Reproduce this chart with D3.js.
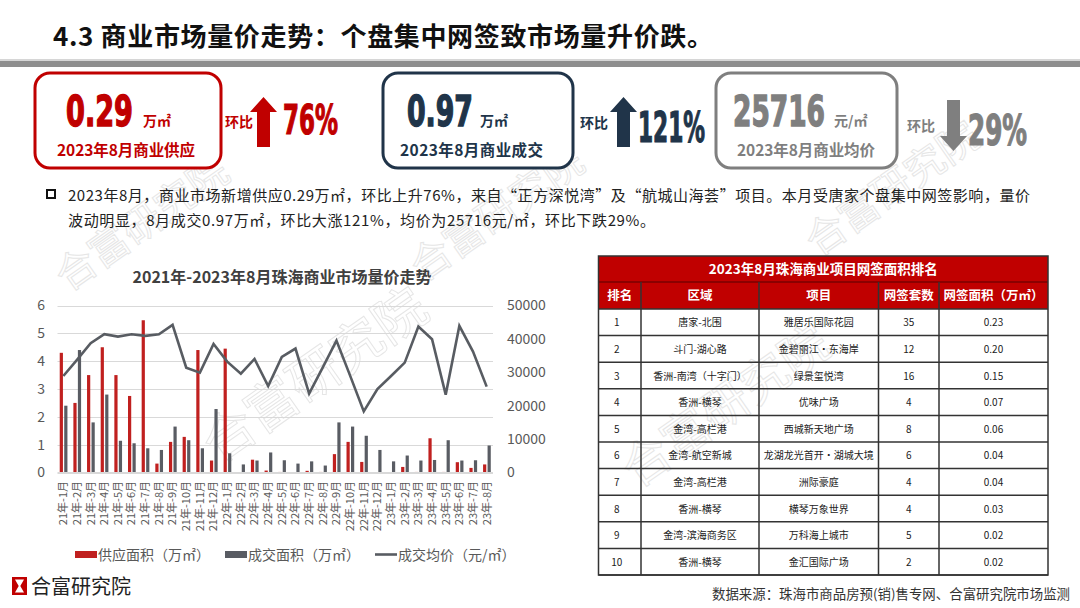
<!DOCTYPE html>
<html><head><meta charset="utf-8">
<script src="https://cdn.jsdelivr.net/npm/d3@7/dist/d3.min.js"></script>
<style>body{margin:0;background:#fff}svg{display:block}</style>
</head><body><svg id="c" width="1080" height="608"></svg>
<script>
// ---------- data ----------
const months = [
 "21年-1月","21年-2月","21年-3月","21年-4月","21年-5月","21年-6月","21年-7月","21年-8月","21年-9月","21年-10月","21年-11月","21年-12月",
 "22年-1月","22年-2月","22年-3月","22年-4月","22年-5月","22年-6月","22年-7月","22年-8月","22年-9月","22年-10月","22年-11月","22年-12月",
 "23年-1月","23年-2月","23年-3月","23年-4月","23年-5月","23年-6月","23年-7月","23年-8月"];
const supply = [4.3,2.5,3.5,4.5,3.5,2.75,5.47,0.32,1.1,1.28,4.4,0.43,
                4.45,0,0.46,0.07,0.02,0,0.06,0.02,0.66,1.1,0.38,0,
                0,0.2,0.02,1.23,0.02,0.37,0.165,0.29];
const deal = [2.4,4.4,1.8,2.8,1.14,1.05,0.87,0.81,1.65,1.16,0.87,2.28,
              0.69,0.29,0.43,0.72,0.44,0.32,0.40,0.25,1.8,1.65,1.32,0.81,
              0.40,0.61,0.43,0.45,1.16,0.43,0.44,0.97];
const price = [28900,33700,38700,41400,40700,41400,40900,41400,44200,31400,29900,38500,
               33200,29600,34000,25900,34600,37100,23600,31500,39500,29000,18300,25000,
               28900,32900,43700,39900,23300,43900,36200,25716];
const leftTicks = [0,1,2,3,4,5,6];
const rightTicks = [0,10000,20000,30000,40000,50000];
const seriesNames = ["供应面积（万㎡）","成交面积（万㎡）","成交均价（元/㎡）"];

const tableTitle = "2023年8月珠海商业项目网签面积排名";
const tableHeaders = ["排名","区域","项目","网签套数","网签面积（万㎡）"];
const ranks = [1,2,3,4,5,6,7,8,9,10];
const areas = ["唐家-北围","斗门-湖心路","香洲-南湾（十字门）","香洲-横琴","金湾-高栏港","金湾-航空新城","金湾-高栏港","香洲-横琴","金湾-滨海商务区","香洲-横琴"];
const projects = ["雅居乐国际花园","金碧丽江·东海岸","绿景玺悦湾","优味广场","西城新天地广场","龙湖龙光首开·湖城大境","洲际豪庭","横琴万象世界","万科海上城市","金汇国际广场"];
const units = [35,12,16,4,8,6,4,4,5,2];
const netArea = ["0.23","0.20","0.15","0.07","0.06","0.04","0.04","0.03","0.02","0.02"];

const kpiValues = ["0.29","0.97","25716"];
const kpiUnits = ["万㎡","万㎡","元/㎡"];
const kpiLabels = ["2023年8月商业供应","2023年8月商业成交","2023年8月商业均价"];
const kpiChanges = ["76%","121%","29%"];
const kpiDirs = ["up","up","down"];

const titleText = "4.3 商业市场量价走势：个盘集中网签致市场量升价跌。";
const bullet1 = "2023年8月，商业市场新增供应0.29万㎡，环比上升76%，来自“正方深悦湾”及“航城山海荟”项目。本月受唐家个盘集中网签影响，量价";
const bullet2 = "波动明显，8月成交0.97万㎡，环比大涨121%，均价为25716元/㎡，环比下跌29%。";
const chartTitle = "2021年-2023年8月珠海商业市场量价走势";
const sourceText = "数据来源：珠海市商品房预(销)售专网、合富研究院市场监测";

// ---------- drawing ----------
const svg = d3.select("#c");
const CJK = "'Noto Sans CJK SC','Noto Sans',sans-serif";
const NARROW = "'Liberation Sans Narrow','DejaVu Sans Condensed','Liberation Sans',sans-serif";
svg.append("rect").attr("width",1080).attr("height",608).attr("fill","#fff");

// watermarks
const wm = [[150,235,40],[505,225,40],[900,200,40],[325,390,52],[735,420,48]];
wm.forEach(([x,y,s])=>{
  svg.append("text").attr("transform",`translate(${x},${y}) rotate(-35)`)
    .attr("text-anchor","middle").attr("font-family",CJK).attr("font-size",s)
    .attr("fill","none").attr("stroke","#e6e6e6").attr("stroke-width",1)
    .text("合富研究院");
});

// title
svg.append("text").attr("x",53).attr("y",46).attr("font-family",CJK).attr("font-weight","bold")
  .attr("font-size",26).attr("fill","#111").attr("textLength",660).attr("lengthAdjust","spacing").text(titleText);
svg.append("rect").attr("x",0).attr("y",59).attr("width",1080).attr("height",2).attr("fill","#d6d6d6");
svg.append("rect").attr("x",0).attr("y",61).attr("width",1080).attr("height",6).attr("fill","#8e8e8e");

// fits a text horizontally to a target width by scaling (keeps bbox honest)
function fitText(sel, x, y, targetW){
  const w = sel.node().getComputedTextLength();
  const sx = targetW / w;
  sel.attr("x",0).attr("y",0).attr("transform",`translate(${x},${y}) scale(${sx},1)`);
}

// KPI boxes
const kpiColors = ["#c00000","#203449","#7f7f7f"];
const boxes = [
  {x:35,w:186,numX:66,numW:67,unitX:143,lblX:57,lblW:138,hbX:225,arX:250,chX:283,chW:55,chTop:104,chBase:134},
  {x:383,w:190,numX:407,numW:66,unitX:480,lblX:400,lblW:143,hbX:580,arX:610,chX:638,chW:67,chTop:111,chBase:142},
  {x:716,w:181,numX:733,numW:92,unitX:834,lblX:737,lblW:138,hbX:907,arX:940,chX:968,chW:59,chTop:114,chBase:145}
];
boxes.forEach((b,i)=>{
  const col = kpiColors[i];
  svg.append("rect").attr("x",b.x).attr("y",73).attr("width",b.w).attr("height",95)
    .attr("rx",15).attr("fill","#fff").attr("stroke",col).attr("stroke-width",3);
  const num = svg.append("text").attr("font-family",NARROW).attr("font-weight","bold")
    .attr("font-size",43).attr("fill",col).attr("stroke",col).attr("stroke-width",1.4).text(kpiValues[i]);
  fitText(num, b.numX, 126, b.numW);
  svg.append("text").attr("x",b.unitX).attr("y",126).attr("font-family",CJK).attr("font-weight","bold")
    .attr("font-size",14).attr("fill",col).text(kpiUnits[i]);
  svg.append("text").attr("x",b.lblX).attr("y",156).attr("font-family",CJK).attr("font-weight","bold")
    .attr("font-size",15.5).attr("fill",col).attr("textLength",b.lblW).attr("lengthAdjust","spacing").text(kpiLabels[i]);
  svg.append("text").attr("x",b.hbX).attr("y",i===0?127:(i===1?128:131)).attr("font-family",CJK).attr("font-weight","bold")
    .attr("font-size",14).attr("fill",col).text("环比");
  // arrow
  const ax=b.arX, top=97, bot=147, w=27, hh=15, sw=13;
  let p;
  if(kpiDirs[i]==="up"){
    p=`M${ax+w/2},${top} L${ax+w},${top+hh} L${ax+w/2+sw/2},${top+hh} L${ax+w/2+sw/2},${bot} L${ax+w/2-sw/2},${bot} L${ax+w/2-sw/2},${top+hh} L${ax},${top+hh} Z`;
  } else {
    const t2=100,b2=151;
    p=`M${ax+w/2},${b2} L${ax+w},${b2-hh} L${ax+w/2+sw/2},${b2-hh} L${ax+w/2+sw/2},${t2} L${ax+w/2-sw/2},${t2} L${ax+w/2-sw/2},${b2-hh} L${ax},${b2-hh} Z`;
  }
  svg.append("path").attr("d",p).attr("fill",col);
  const chSize = (b.chBase-b.chTop)/0.72;
  const ch = svg.append("text").attr("font-family",NARROW).attr("font-weight","bold")
    .attr("font-size",chSize).attr("fill",col).attr("stroke",col).attr("stroke-width",1.2).text(kpiChanges[i]);
  fitText(ch, b.chX, b.chBase, b.chW);
});

// bullet paragraph
svg.append("rect").attr("x",47).attr("y",190).attr("width",8).attr("height",8).attr("fill","#fff").attr("stroke","#111").attr("stroke-width",2);
svg.append("text").attr("x",68).attr("y",201).attr("font-family",CJK).attr("font-size",15).attr("fill","#222")
  .attr("textLength",962).attr("lengthAdjust","spacing").text(bullet1);
svg.append("text").attr("x",68).attr("y",226).attr("font-family",CJK).attr("font-size",15).attr("fill","#222")
  .attr("textLength",587).attr("lengthAdjust","spacing").text(bullet2);

// ---------- chart ----------
const x = d3.scaleBand().domain(months).range([56.5,493.5]).padding(0);
const yL = d3.scaleLinear().domain([0,6]).range([472.5,305.5]);
const yR = d3.scaleLinear().domain([0,50000]).range([472.5,305.5]);
const cx = m => x(m)+x.bandwidth()/2;

svg.append("text").attr("x",282).attr("y",283).attr("text-anchor","middle").attr("font-family",CJK)
  .attr("font-weight","bold").attr("font-size",16).attr("fill","#404040").text(chartTitle);

const g = svg.append("g");
g.selectAll(".grid").data(leftTicks).join("line")
  .attr("x1",57.5).attr("x2",493).attr("y1",d=>Math.round(yL(d))+0.5).attr("y2",d=>Math.round(yL(d))+0.5)
  .attr("stroke","#d9d9d9").attr("stroke-width",1);

const axL = d3.axisLeft(yL).tickValues(leftTicks).tickSize(0).tickPadding(0).tickFormat(d3.format("d"));
const gL = svg.append("g").attr("transform","translate(45,0)").call(axL);
gL.select(".domain").remove();
gL.selectAll("text").attr("font-family",CJK).attr("font-size",14).attr("fill","#595959");

const axR = d3.axisRight(yR).tickValues(rightTicks).tickSize(0).tickPadding(0).tickFormat(d3.format("d"));
const gR = svg.append("g").attr("transform","translate(507,0)").call(axR);
gR.select(".domain").remove();
gR.selectAll("text").attr("font-family",CJK).attr("font-size",14).attr("fill","#595959");

const axB = d3.axisBottom(x).tickSize(0).tickPadding(0);
const gB = svg.append("g").attr("transform","translate(0,481)").call(axB);
gB.select(".domain").remove();
gB.selectAll("text").attr("font-family",CJK).attr("font-size",11).attr("fill","#595959")
  .attr("text-anchor","end").attr("dy","0.35em").attr("transform","rotate(-90)").attr("x",0).attr("y",0);

g.selectAll(".sup").data(months).join("rect")
  .attr("x",(m)=>cx(m)-3.6).attr("width",3.2)
  .attr("y",(m,i)=>yL(supply[i])).attr("height",(m,i)=>yL(0)-yL(supply[i]))
  .attr("fill","#c0201f");
g.selectAll(".deal").data(months).join("rect")
  .attr("x",(m)=>cx(m)+0.9).attr("width",3.2)
  .attr("y",(m,i)=>yL(deal[i])).attr("height",(m,i)=>yL(0)-yL(deal[i]))
  .attr("fill","#595c63");
g.append("line").attr("x1",57.5).attr("x2",493).attr("y1",472.5).attr("y2",472.5).attr("stroke","#d9d9d9");

const line = d3.line().x((d,i)=>cx(months[i])).y(d=>yR(d));
g.append("path").datum(price).attr("d",line).attr("fill","none")
  .attr("stroke","#585c62").attr("stroke-width",2.6).attr("stroke-linejoin","miter");

// legend
const lg = svg.append("g").attr("font-family",CJK).attr("font-size",14).attr("fill","#595959");
lg.append("rect").attr("x",75).attr("y",551).attr("width",22).attr("height",7).attr("fill","#c0201f");
lg.append("text").attr("x",98).attr("y",560).text(seriesNames[0]);
lg.append("rect").attr("x",225).attr("y",551).attr("width",22).attr("height",7).attr("fill","#595c63");
lg.append("text").attr("x",248).attr("y",560).text(seriesNames[1]);
lg.append("line").attr("x1",375).attr("x2",397).attr("y1",554.5).attr("y2",554.5).attr("stroke","#585c62").attr("stroke-width",2.6);
lg.append("text").attr("x",398).attr("y",560).text(seriesNames[2]);

// ---------- table ----------
const colEdges = [598.5,641,759,878.5,939,1048];
const tY0 = 256, tY1 = 282, tY2 = 309, tY3 = 575;
const rowY = d3.scaleBand().domain(ranks).range([tY2,tY3]);
const tg = svg.append("g");
tg.append("rect").attr("x",colEdges[0]).attr("y",tY0).attr("width",colEdges[5]-colEdges[0]).attr("height",tY2-tY0).attr("fill","#c00000");
tg.append("text").attr("x",(colEdges[0]+colEdges[5])/2).attr("y",274).attr("text-anchor","middle")
  .attr("font-family",CJK).attr("font-weight","bold").attr("font-size",13.5).attr("fill","#fff").text(tableTitle);
tableHeaders.forEach((h,j)=>{
  tg.append("text").attr("x",(colEdges[j]+colEdges[j+1])/2).attr("y",300).attr("text-anchor","middle")
    .attr("font-family",CJK).attr("font-weight","bold").attr("font-size",12.5).attr("fill","#fff").text(h);
});
const cols = [ranks, areas, projects, units, netArea];
ranks.forEach((r,i)=>{
  const yy = rowY(r)+rowY.bandwidth()/2+4;
  cols.forEach((c,j)=>{
    tg.append("text").attr("x",j===0?(colEdges[0]+colEdges[1])/2-3:(colEdges[j]+colEdges[j+1])/2).attr("y",yy)
      .attr("text-anchor","middle").attr("font-family",CJK).attr("font-size",10).attr("fill","#222").text(c[i]);
  });
});
// grid lines
const hl = [tY1,tY2].concat(ranks.map(r=>rowY(r)+rowY.bandwidth()));
hl.forEach((yv,k)=>{
  tg.append("line").attr("x1",colEdges[0]).attr("x2",colEdges[5]).attr("y1",yv).attr("y2",yv)
    .attr("stroke",k===0?"#7a0000":"#333").attr("stroke-width",1.5);
});
colEdges.slice(1,5).forEach(xv=>{
  tg.append("line").attr("x1",xv).attr("x2",xv).attr("y1",tY1).attr("y2",tY3).attr("stroke","#333").attr("stroke-width",1.5);
});
tg.append("rect").attr("x",colEdges[0]).attr("y",tY0).attr("width",colEdges[5]-colEdges[0]).attr("height",tY3-tY0)
  .attr("fill","none").attr("stroke","#333").attr("stroke-width",1.5);

// ---------- footer ----------
svg.append("rect").attr("x",12).attr("y",577).attr("width",15).attr("height",18).attr("fill","#c00000");
svg.append("path").attr("d","M15,579.5 L24,579.5 L20.3,586 L24,592.5 L15,592.5 L18.7,586 Z").attr("fill","#fff");
svg.append("text").attr("x",31).attr("y",594).attr("font-family",CJK).attr("font-size",20).attr("fill","#222").text("合富研究院");
svg.append("text").attr("x",712).attr("y",599).attr("font-family",CJK).attr("font-size",13.2).attr("fill","#333")
  .attr("textLength",358).attr("lengthAdjust","spacingAndGlyphs").text(sourceText);
</script></body></html>
